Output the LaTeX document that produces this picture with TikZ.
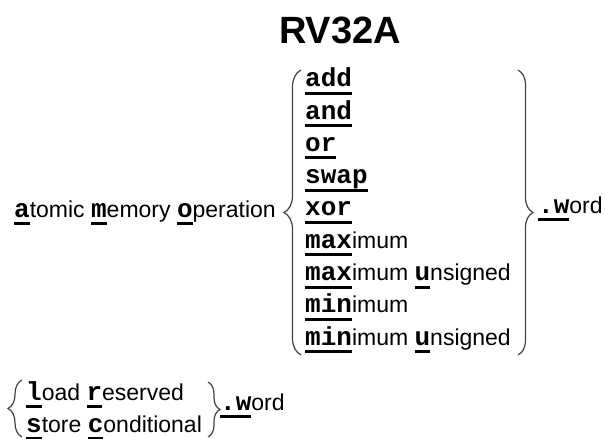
\documentclass[tikz,border=0pt]{standalone}
\usepackage{fontspec}
\setmainfont{Liberation Sans}
\newfontfamily\abfont{Liberation Mono}
\usetikzlibrary{decorations.pathreplacing}
% abbreviation letters: bold mono, thick underline
\newcommand\ab[1]{{\setbox0\hbox{\abfont\bfseries\fontsize{26}{32}\selectfont #1}%
  \rlap{\rule[-8pt]{\wd0}{3pt}}\box0}}
\tikzset{
  item/.style={anchor=base west, inner sep=0pt, font=\fontsize{23}{32}\selectfont},
  curly/.style={decorate, decoration={brace, amplitude=#1}, draw=black!75, line width=1.2pt},
}
\begin{document}
\begin{tikzpicture}[x=1pt, y=-1pt]
    \useasboundingbox (0,0) rectangle (605,439);
    \node[anchor=base, inner sep=0pt, font=\bfseries\fontsize{38}{40}\selectfont] (title) at (340,43.5) {RV32A};
    % atomic memory operations
    \node[item] (amo) at (14,217) {\ab{a}tomic \ab{m}emory \ab{o}peration};
    \foreach \txt [count=\i] in {{\ab{add}}, {\ab{and}}, {\ab{or}}, {\ab{swap}}, {\ab{xor}},
        {\ab{max}imum}, {\ab{max}imum \ab{u}nsigned}, {\ab{min}imum}, {\ab{min}imum \ab{u}nsigned}}
        \node[item] (op\i) at (305,{86.7+32.3*(\i-1)}) {\txt};
    \draw[curly=17pt] (301,355) -- (301,70);
    \draw[curly=15pt] (518,70) -- (518,355);
    \node[item] (amow) at (538,213) {\ab{.w}ord};
    % load reserved / store conditional
    \node[item] (lr) at (26,400) {\ab{l}oad \ab{r}eserved};
    \node[item] (sc) at (26,432) {\ab{s}tore \ab{c}onditional};
    \draw[curly=14pt] (22,437) -- (22,380);
    \draw[curly=12pt] (208,382) -- (208,437);
    \node[item] (lrw) at (220,410) {\ab{.w}ord};
\end{tikzpicture}
\end{document}
